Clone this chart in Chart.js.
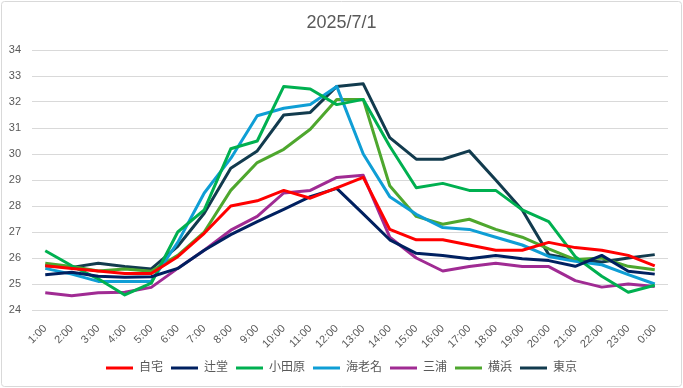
<!DOCTYPE html>
<html>
<head>
<meta charset="utf-8">
<script src="https://cdn.jsdelivr.net/npm/chart.js@4"></script>
<style>
  html, body { margin: 0; padding: 0; background: #fff; }
  #wrap { width: 683px; height: 388px; position: relative; }
</style>
</head>
<body>
<div id="wrap"><canvas id="tempChart"></canvas></div>
<script>
// hourly temperatures, 2025/7/1
const hours = ["1:00", "2:00", "3:00", "4:00", "5:00", "6:00", "7:00", "8:00", "9:00", "10:00", "11:00", "12:00",
  "13:00", "14:00", "15:00", "16:00", "17:00", "18:00", "19:00", "20:00", "21:00", "22:00", "23:00", "0:00"];
const yTicks = [24, 25, 26, 27, 28, 29, 30, 31, 32, 33, 34];

const jitaku   = [25.7, 25.6, 25.5, 25.4, 25.4, 26.05, 26.95, 28.0, 28.2, 28.6, 28.3, 28.7, 29.1, 27.1, 26.7, 26.7, 26.5, 26.3, 26.3, 26.6, 26.4, 26.3, 26.1, 25.7];
const tsujido  = [25.36, 25.45, 25.3, 25.26, 25.28, 25.6, 26.3, 26.9, 27.4, 27.87, 28.36, 28.68, 27.7, 26.7, 26.18, 26.1, 25.97, 26.1, 25.97, 25.9, 25.68, 26.1, 25.49, 25.38];
const odawara  = [26.28, 25.7, 25.2, 24.58, 25.03, 27.0, 27.85, 30.2, 30.5, 32.6, 32.5, 31.9, 32.1, 30.3, 28.7, 28.87, 28.6, 28.6, 27.85, 27.4, 26.05, 25.3, 24.68, 24.95];
const ebina    = [25.6, 25.38, 25.1, 25.1, 25.1, 26.6, 28.5, 29.83, 31.47, 31.76, 31.9, 32.6, 30.0, 28.36, 27.68, 27.17, 27.1, 26.8, 26.5, 26.06, 25.87, 25.74, 25.36, 25.0];
const miura    = [24.66, 24.55, 24.66, 24.68, 24.87, 25.6, 26.3, 27.07, 27.6, 28.5, 28.6, 29.1, 29.18, 26.8, 26.0, 25.5, 25.67, 25.8, 25.67, 25.67, 25.13, 24.88, 25.0, 24.9];
const yokohama = [25.8, 25.67, 25.5, 25.58, 25.49, 26.1, 27.0, 28.6, 29.67, 30.18, 30.95, 32.1, 32.1, 28.78, 27.6, 27.3, 27.49, 27.1, 26.8, 26.35, 25.94, 26.0, 25.68, 25.55];
const tokyo    = [25.7, 25.64, 25.8, 25.67, 25.58, 26.45, 27.72, 29.45, 30.12, 31.5, 31.6, 32.6, 32.7, 30.63, 29.8, 29.8, 30.12, 29.0, 27.85, 26.13, 25.94, 25.85, 26.0, 26.13];

const seriesNames  = ["自宅", "辻堂", "小田原", "海老名", "三浦", "横浜", "東京"];
const seriesData   = [jitaku, tsujido, odawara, ebina, miura, yokohama, tokyo];
const seriesColors = ["#ff0000", "#002060", "#00b050", "#0f9ed5", "#a02b93", "#4ea72e", "#123b4e"];

const FONT = "'Liberation Sans', Arial, 'Noto Sans CJK JP', sans-serif";
const GREY = "#595959";

// white background + thin frame round the whole chart
const frame = {
  id: "frame",
  beforeDraw(chart) {
    const c = chart.ctx;
    c.save();
    c.fillStyle = "#fff";
    c.fillRect(0, 0, chart.width, chart.height);
    c.strokeStyle = "#d9d9d9";
    c.lineWidth = 1;
    c.beginPath();
    c.roundRect(1.5, 1.5, chart.width - 3, chart.height - 3, 3);
    c.stroke();
    c.restore();
  }
};

const datasets = seriesNames.map((name, i) => ({
  label: name,
  data: seriesData[i],
  borderColor: seriesColors[i],
  backgroundColor: seriesColors[i],
  borderWidth: 3,
  borderJoinStyle: "round",
  pointRadius: 0,
  pointHoverRadius: 0,
  tension: 0,
  pointStyle: "line",
}));

new Chart(document.getElementById("tempChart"), {
  type: "line",
  data: { labels: hours, datasets },
  options: {
    responsive: true,
    maintainAspectRatio: false,
    animation: false,
    layout: { padding: { left: 0, right: 0, top: 0, bottom: 4 } },
    plugins: {
      title: {
        display: true,
        text: "2025/7/1",
        color: GREY,
        font: { family: FONT, size: 18, weight: "normal" },
        padding: { top: 12, bottom: 16.4 },
      },
      legend: {
        position: "bottom",
        labels: {
          usePointStyle: true,
          pointStyleWidth: 27,
          padding: 8,
          color: GREY,
          font: { family: FONT, size: 12 },
        },
      },
      tooltip: { enabled: false },
    },
    scales: {
      x: {
        offset: true,
        grid: { display: false, drawTicks: false },
        border: { display: false },
        ticks: {
          color: GREY,
          font: { family: FONT, size: 11 },
          minRotation: 45,
          maxRotation: 45,
          autoSkip: false,
          padding: 12,
        },
        afterFit(scale) { scale.height = 44; },
      },
      y: {
        min: 24,
        max: 34,
        grid: { color: "#d9d9d9", lineWidth: 1, drawTicks: false },
        border: { display: false },
        afterBuildTicks(scale) { scale.ticks = yTicks.map(v => ({ value: v })); },
        ticks: {
          color: GREY,
          font: { family: FONT, size: 11 },
          padding: 11,
        },
        afterFit(scale) { scale.width = 32; },
      },
      // empty right-hand box, only keeps the plot clear of the frame
      y2: {
        position: "right",
        display: true,
        grid: { display: false, drawTicks: false },
        border: { display: false },
        ticks: { display: false },
        afterFit(scale) { scale.width = 15; },
      },
    },
  },
  plugins: [frame],
});
</script>
</body>
</html>
